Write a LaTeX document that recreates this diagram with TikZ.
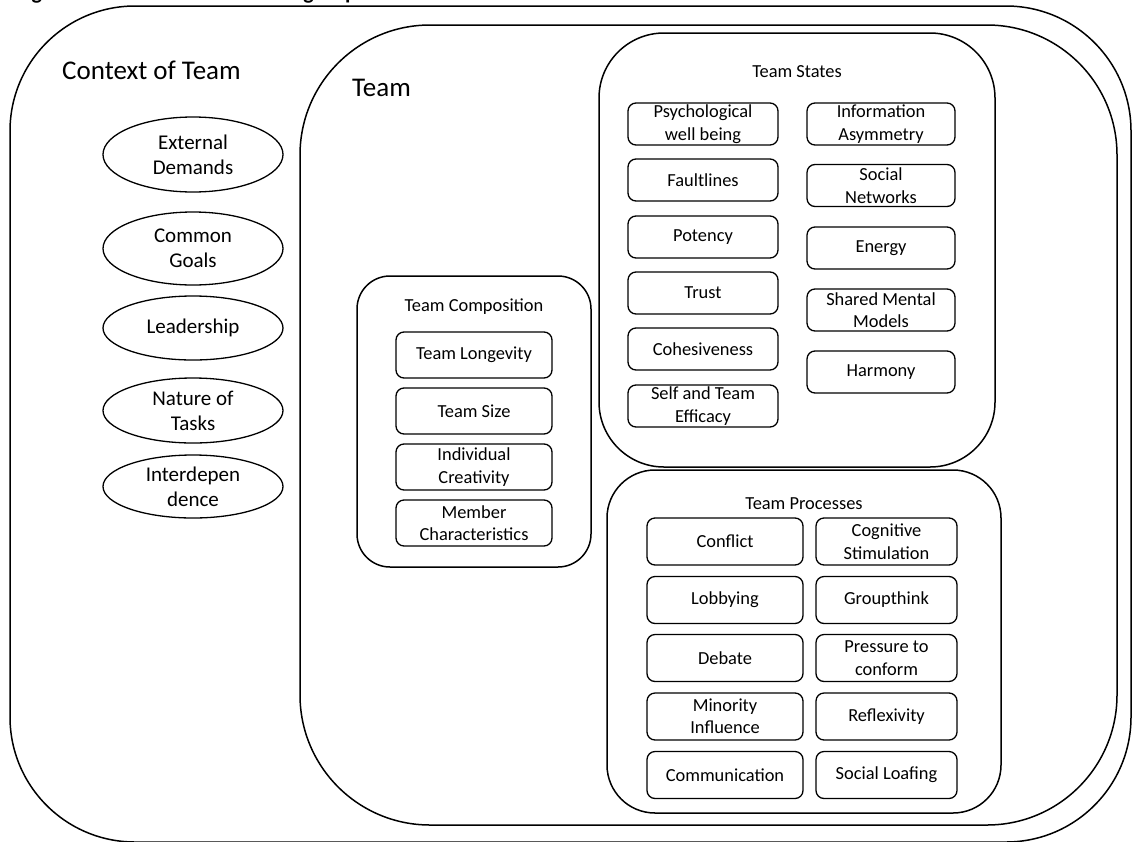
\documentclass[tikz,border=0pt]{standalone}
\usepackage{fontspec}
\setmainfont{Carlito}
\usetikzlibrary{shapes.geometric}
\begin{document}
\begin{tikzpicture}[x=1pt,y=-1pt,
  frame/.style={draw, line width=1.5pt, inner sep=0pt, rectangle},
  itembox/.style={draw, line width=1.3pt, rounded corners=8pt, inner sep=0pt,
    align=center, font=\fontsize{18.4}{22.4}\selectfont},
  compbox/.style={itembox, minimum width=156, minimum height=46},
  stateleft/.style={itembox, minimum width=150, minimum height=42},
  stateright/.style={itembox, minimum width=148, minimum height=42},
  procleft/.style={itembox, minimum width=156, minimum height=47},
  procright/.style={itembox, minimum width=141, minimum height=47},
  factor/.style={draw, ellipse, line width=1.3pt, inner sep=0pt, minimum width=180,
    align=center, font=\fontsize{21}{25}\selectfont},
  biglabel/.style={anchor=base west, inner sep=0pt, font=\fontsize{27}{32}\selectfont},
  grouptitle/.style={anchor=base, inner sep=0pt, font=\fontsize{18.4}{22.4}\selectfont}
]
\useasboundingbox (0,0) rectangle (1132,841);

% caption line, mostly above the page edge
\node[anchor=base west, inner sep=0pt, font=\fontsize{22}{26}\bfseries\selectfont]
  (caption) at (16,-0.8) {Figure 1: Factors that influence group};

% nested frames
\node[frame, rounded corners=125, minimum width=1121, minimum height=836]
  (context) at (570.5,424) {};
\node[frame, rounded corners=130, minimum width=817, minimum height=800]
  (team) at (708.5,425) {};
\node[frame, rounded corners=65, minimum width=396, minimum height=434]
  (states) at (797,250) {};
\node[frame, rounded corners=48, minimum width=394, minimum height=343]
  (processes) at (804,641.5) {};
\node[frame, rounded corners=33, minimum width=234, minimum height=291]
  (composition) at (474,421.5) {};

\node[biglabel] (contextlabel) at (62,79) {Context of Team};
\node[biglabel] (teamlabel) at (352,96) {Team};
\node[grouptitle] (statestitle) at (797,77) {Team States};
\node[grouptitle] (comptitle) at (474,311) {Team Composition};
\node[grouptitle] (proctitle) at (804,509) {Team Processes};

% contextual factors
\node[factor, minimum height=75] (demands) at (193,154.5) {External\\Demands};
\node[factor, minimum height=73] (goals) at (193,248.5) {Common\\Goals};
\node[factor, minimum height=64] (leadership) at (193,328) {Leadership};
\node[factor, minimum height=65] (tasks) at (193,410.5) {Nature of\\Tasks};
\node[factor, minimum height=63] (interdep) at (193,486.5) {Interdepen\\dence};

% team composition
\node[compbox] (longevity) at (474,355) {Team Longevity};
\node[compbox] (size) at (474,411) {Team Size};
\node[compbox] (creativity) at (474,467) {Individual\\Creativity};
\node[compbox] (members) at (474,523) {Member\\Characteristics};

% team states
\node[stateleft] (wellbeing) at (703,124) {Psychological\\well being};
\node[stateleft] (faultlines) at (703,180) {Faultlines};
\node[stateleft] (potency) at (703,237) {Potency};
\node[stateleft] (trust) at (703,293) {Trust};
\node[stateleft] (cohesiveness) at (703,349) {Cohesiveness};
\node[stateleft] (efficacy) at (703,406) {Self and Team\\Efficacy};
\node[stateright] (asymmetry) at (881,124) {Information\\Asymmetry};
\node[stateright] (networks) at (881,185.5) {Social\\Networks};
\node[stateright] (energy) at (881,248) {Energy};
\node[stateright] (mentalmodels) at (881,310) {Shared Mental\\Models};
\node[stateright] (harmony) at (881,372) {Harmony};

% team processes
\node[procleft] (conflict) at (725,541.5) {Conflict};
\node[procleft] (lobbying) at (725,600) {Lobbying};
\node[procleft] (debate) at (725,658) {Debate};
\node[procleft] (minority) at (725,716.5) {Minority\\Influence};
\node[procleft] (communication) at (725,775) {Communication};
\node[procright] (stimulation) at (886.5,541.5) {Cognitive\\Stimulation};
\node[procright] (groupthink) at (886.5,600) {Groupthink};
\node[procright] (pressure) at (886.5,658) {Pressure to\\conform};
\node[procright] (reflexivity) at (886.5,716.5) {Reflexivity};
\node[procright] (loafing) at (886.5,775) {Social Loafing};
\end{tikzpicture}
\end{document}
